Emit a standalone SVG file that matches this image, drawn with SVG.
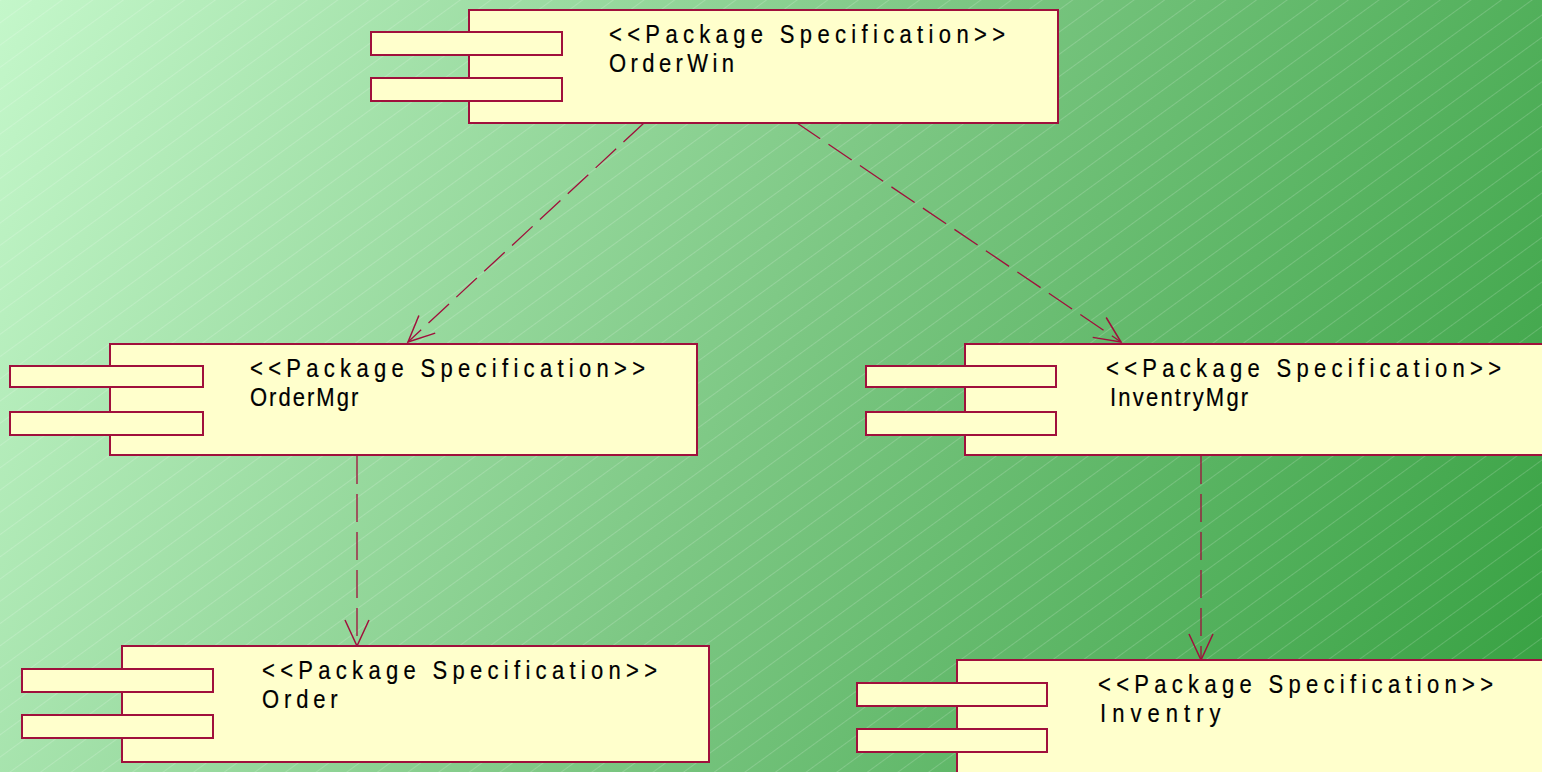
<svg xmlns="http://www.w3.org/2000/svg" width="1542" height="772" viewBox="0 0 1542 772">
  <defs>
    <linearGradient id="bg" x1="0" y1="0" x2="1542" y2="772" gradientUnits="userSpaceOnUse">
      <stop offset="0" stop-color="#c4f7ca"/>
      <stop offset="0.5" stop-color="#7cc783"/>
      <stop offset="1" stop-color="#35a040"/>
    </linearGradient>
    <pattern id="hatch" patternUnits="userSpaceOnUse" width="40" height="18" patternTransform="rotate(-36)">
      <line x1="0" y1="0.5" x2="40" y2="0.5" stroke="#ffffff" stroke-opacity="0.22" stroke-width="0.8"/>
    </pattern>
    <marker id="open" viewBox="0 0 30 26" refX="28" refY="13" markerWidth="30" markerHeight="26" markerUnits="userSpaceOnUse" orient="auto">
      <path d="M2 1 L28 13 L2 25" fill="none" stroke="#a0103c" stroke-width="1.5"/>
    </marker>
    <style>
      .body, .tab { fill: #ffffcc; stroke: #a0103c; stroke-width: 2; }
      .lbl { font-family: "Liberation Sans", "DejaVu Sans", sans-serif; font-size: 25px; fill: #000000; stroke: #000000; stroke-width: 0.2; }
      .dep { fill: none; stroke: #a0103c; stroke-width: 1.3; stroke-dasharray: 28 10; marker-end: url(#open); }
    </style>
  </defs>

  <!-- backdrop -->
  <rect x="0" y="0" width="1542" height="772" fill="url(#bg)"/>
  <rect x="0" y="0" width="1542" height="772" fill="url(#hatch)"/>

  <!-- dependency connectors -->
  <g id="connectors">
    <path class="dep" d="M644 123 L408 342"/>
    <path class="dep" d="M797 123 L1121 342"/>
    <path class="dep" d="M357 456 L357 646"/>
    <path class="dep" d="M1201 456 L1201 660"/>
  </g>

  <!-- labels use narrowed glyphs (scale 0.88) with spacing stretched to width -->
  <g id="node-orderwin">
    <rect class="body" x="469" y="10" width="589" height="113"/>
    <rect class="tab" x="371" y="32" width="191" height="23"/>
    <rect class="tab" x="371" y="78" width="191" height="23"/>
    <text class="lbl" transform="translate(609 43) scale(0.88 1)" textLength="450" lengthAdjust="spacing">&lt;&lt;Package Specification&gt;&gt;</text>
    <text class="lbl" transform="translate(609 72) scale(0.88 1)" textLength="142" lengthAdjust="spacing">OrderWin</text>
  </g>

  <g id="node-ordermgr">
    <rect class="body" x="110" y="344" width="587" height="111"/>
    <rect class="tab" x="10" y="366" width="193" height="21"/>
    <rect class="tab" x="10" y="412" width="193" height="23"/>
    <text class="lbl" transform="translate(250 377) scale(0.88 1)" textLength="449" lengthAdjust="spacing">&lt;&lt;Package Specification&gt;&gt;</text>
    <text class="lbl" transform="translate(250 406) scale(0.88 1)" textLength="123" lengthAdjust="spacing">OrderMgr</text>
  </g>

  <g id="node-inventrymgr">
    <rect class="body" x="965" y="344" width="590" height="111"/>
    <rect class="tab" x="866" y="366" width="190" height="21"/>
    <rect class="tab" x="866" y="412" width="190" height="23"/>
    <text class="lbl" transform="translate(1106 377) scale(0.88 1)" textLength="449" lengthAdjust="spacing">&lt;&lt;Package Specification&gt;&gt;</text>
    <text class="lbl" transform="translate(1110 406) scale(0.88 1)" textLength="157" lengthAdjust="spacing">InventryMgr</text>
  </g>

  <g id="node-order">
    <rect class="body" x="122" y="646" width="587" height="116"/>
    <rect class="tab" x="22" y="669" width="191" height="23"/>
    <rect class="tab" x="22" y="715" width="191" height="23"/>
    <text class="lbl" transform="translate(262 679) scale(0.88 1)" textLength="449" lengthAdjust="spacing">&lt;&lt;Package Specification&gt;&gt;</text>
    <text class="lbl" transform="translate(262 708) scale(0.88 1)" textLength="86" lengthAdjust="spacing">Order</text>
  </g>

  <g id="node-inventry">
    <rect class="body" x="957" y="660" width="600" height="130"/>
    <rect class="tab" x="857" y="683" width="190" height="23"/>
    <rect class="tab" x="857" y="729" width="190" height="23"/>
    <text class="lbl" transform="translate(1098 693) scale(0.88 1)" textLength="449" lengthAdjust="spacing">&lt;&lt;Package Specification&gt;&gt;</text>
    <text class="lbl" transform="translate(1100 722) scale(0.88 1)" textLength="137" lengthAdjust="spacing">Inventry</text>
  </g>
</svg>
